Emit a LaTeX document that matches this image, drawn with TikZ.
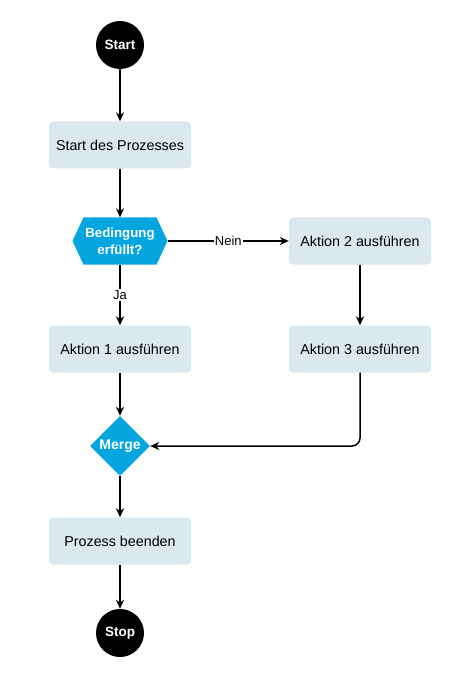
\documentclass[tikz,border=0pt]{standalone}
\usepackage{fontspec}
\setmainfont{Liberation Sans}
\usetikzlibrary{shapes.geometric,shapes.symbols,arrows.meta}
\definecolor{boxfill}{HTML}{DCE8F0}
\definecolor{decfill}{HTML}{05A5E0}
\begin{document}
\begin{tikzpicture}[x=1pt,y=-1pt,font=\fontsize{14.3}{16}\selectfont,term/.style={shape=circle,fill=black,text=white,font=\fontsize{13.5}{15}\selectfont\bfseries,minimum size=48,inner sep=0},step box/.style={shape=rectangle,fill=boxfill,rounded corners=4,minimum width=142,minimum height=47},cond/.style={shape=signal,signal to=east and west,signal from=nowhere,signal pointer angle=130,fill=decfill,text=white,font=\fontsize{13.3}{16.5}\selectfont\bfseries,align=center,minimum width=95,minimum height=47,inner sep=0},mergeD/.style={shape=diamond,fill=decfill,text=white,font=\fontsize{14}{16}\selectfont\bfseries,minimum width=60,minimum height=60,inner sep=0},arr/.style={line width=1.5,-{Stealth[length=9,width=8]}},lbl/.style={fill=white,font=\fontsize{13}{15}\selectfont,inner sep=1}]
\useasboundingbox (0,0) rectangle (456,684);
\def\xl{120};
\def\xr{360};

\node[term] (start) at (\xl,45) {Start};
\node[step box] (init) at (\xl,145) {Start des Prozesses};
\node[cond] (cond) at (\xl,241) {Bedingung\\erfüllt?};
\node[step box] (act2) at (\xr,241) {Aktion 2 ausführen};
\node[step box] (act1) at (\xl,349) {Aktion 1 ausführen};
\node[step box] (act3) at (\xr,349) {Aktion 3 ausführen};
\node[mergeD] (merge) at (\xl,446) {Merge};
\node[step box] (finish) at (\xl,541) {Prozess beenden};
\node[term] (stop) at (\xl,633) {Stop};

\draw[arr] (start.south) -- (init.north);
\draw[arr] (init.south) -- (cond.north);
\draw[arr] (cond.east) -- node[lbl] {Nein} (act2.west);
\draw[arr] (cond.south) -- node[lbl] {Ja} (act1.north);
\draw[arr] (act2.south) -- (act3.north);
\draw[arr] (act1.south) -- (merge.north);
\draw[arr,rounded corners=8] (act3.south) |- (merge.east);
\draw[arr] (merge.south) -- (finish.north);
\draw[arr] (finish.south) -- (stop.north);
\end{tikzpicture}
\end{document}
